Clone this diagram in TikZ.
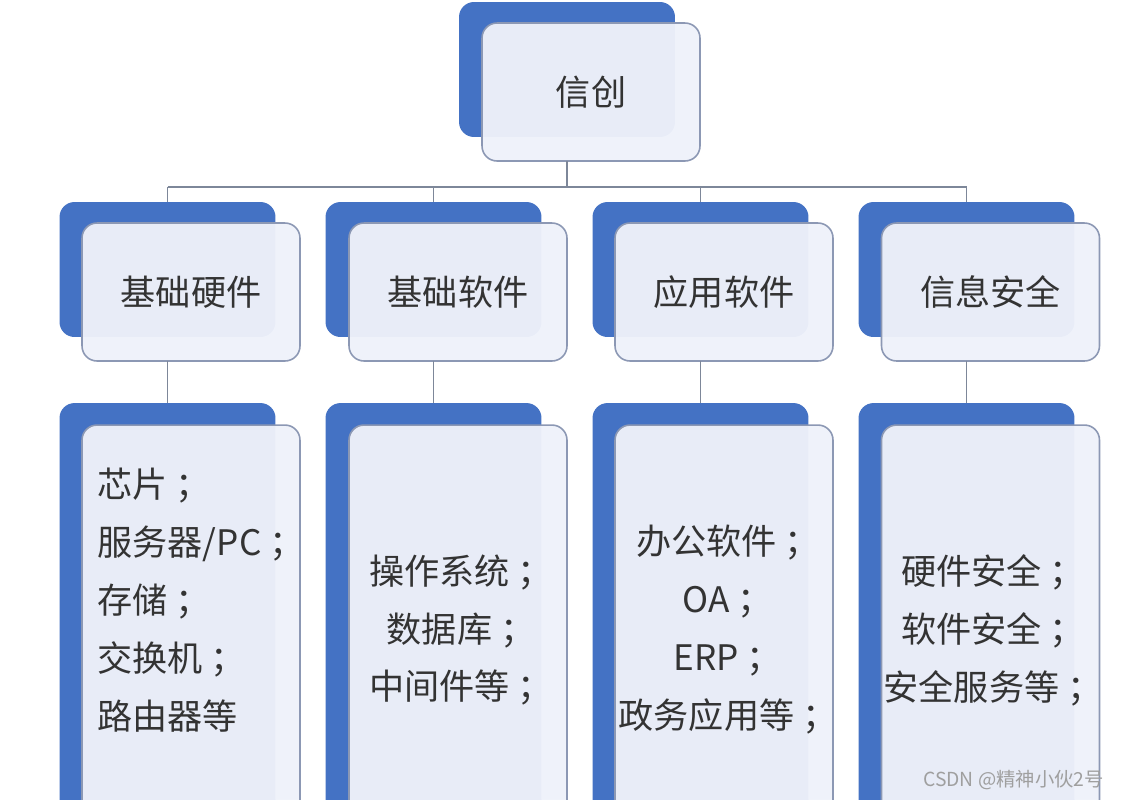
\documentclass[tikz,border=0pt]{standalone}
\usepackage{fontspec}
\setmainfont{Noto Sans CJK SC}
\definecolor{cardblue}{HTML}{4472C4}
\definecolor{cardfill}{HTML}{EFF2FA}
\definecolor{cardline}{HTML}{8C98B4}
\definecolor{linkgray}{HTML}{7D8799}
\definecolor{inkgray}{HTML}{333333}

\begin{document}
\begin{tikzpicture}[
    x=0.02cm, y=-0.02cm,
    back/.style={fill=cardblue, rounded corners=0.3cm, minimum width=4.32cm, minimum height=2.7cm, inner sep=0pt, outer sep=0pt},
    card/.style={draw=cardline, line width=0.9pt, fill=cardfill, fill opacity=0.96, text opacity=1, rounded corners=0.3cm, minimum width=4.36cm, minimum height=2.76cm, inner sep=0pt, outer sep=0pt},
    txt/.style={font=\fontsize{20pt}{33pt}\selectfont, text=inkgray},
    link/.style={draw=linkgray, line width=0.85pt}
]

\fill[white] (0,0) rectangle (1125,799);
\clip (0,0) rectangle (1125,799);

\node[back] (rootb) at (567,69.5) {};
\node[card, txt] (root) at (591,92) {信创};

\node[back] (hwb) at (167.5,269.5) {};
\node[card, txt] (hw) at (191,292) {基础硬件};
\node[back] (swb) at (433.5,269.5) {};
\node[card, txt] (sw) at (458,292) {基础软件};
\node[back] (appb) at (700.5,269.5) {};
\node[card, txt] (app) at (724,292) {应用软件};
\node[back] (secb) at (966.5,269.5) {};
\node[card, txt] (sec) at (990.5,292) {信息安全};

\node[back, minimum height=9.14cm] (hwlb) at (167.5,631.5) {};
\node[card, minimum height=8.2cm] (hwl) at (191,630) {};
\node[back, minimum height=9.14cm] (swlb) at (433.5,631.5) {};
\node[card, minimum height=8.2cm] (swl) at (458,630) {};
\node[back, minimum height=9.14cm] (applb) at (700.5,631.5) {};
\node[card, minimum height=8.2cm] (appl) at (724,630) {};
\node[back, minimum height=9.14cm] (seclb) at (966.5,631.5) {};
\node[card, minimum height=8.2cm] (secl) at (990.5,630) {};

\node[txt, align=left] (hwt) at (201,600) {芯片 ；\\服务器/PC ；\\存储 ；\\交换机 ；\\路由器等};
\node[txt, align=center] (swt) at (461,630) {操作系统 ；\\数据库 ；\\中间件等 ；};
\node[txt, align=center] (appt) at (728,630) {办公软件 ；\\OA ；\\ERP ；\\政务应用等 ；};
\node[txt, align=center] (sect) at (993,630) {硬件安全 ；\\软件安全 ；\\安全服务等 ；};

\coordinate (bus) at (567,187);

\draw[link] (rootb.center |- root.south) -- (bus);
\draw[link] (hwb |- bus) -- (secb |- bus);

\draw[link] (hwb |- bus) -- (hwb.north);
\draw[link] (swb |- bus) -- (swb.north);
\draw[link] (appb |- bus) -- (appb.north);
\draw[link] (secb |- bus) -- (secb.north);

\draw[link] (hwb |- hw.south) -- (hwlb.north);
\draw[link] (swb |- sw.south) -- (swlb.north);
\draw[link] (appb |- app.south) -- (applb.north);
\draw[link] (secb |- sec.south) -- (seclb.north);

\node[font=\fontsize{11pt}{12pt}\selectfont, text=gray!75, anchor=east] (mark) at (1110,780) {CSDN @精神小伙2号};

\end{tikzpicture}
\end{document}
